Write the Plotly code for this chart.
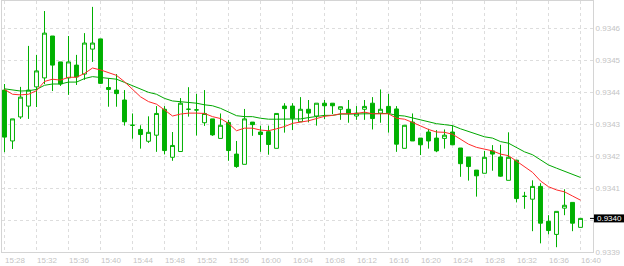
import plotly.graph_objects as go
import pandas as pd

# ---- data (1-minute candles 15:28 .. 16:40) ----
start_time = "2024-01-01 15:28"

open_ = [
    0.934406, 0.934247, 0.934322, 0.934356, 0.934416, 0.934444, 0.934575, 0.934494, 0.934444, 0.934484,
    0.934456, 0.934534, 0.934566, 0.934414, 0.934406, 0.934375, 0.934296, 0.934283, 0.934246, 0.934265,
    0.934346, 0.934196, 0.934214, 0.934346, 0.934344, 0.934304, 0.934316, 0.934255, 0.934305, 0.934206,
    0.934174, 0.934306, 0.934275, 0.934276, 0.934224, 0.934356, 0.934356, 0.934307, 0.934346, 0.934325,
    0.934365, 0.934365, 0.934346, 0.934346, 0.934325, 0.934346, 0.934365, 0.934334, 0.934355, 0.934347,
    0.934224, 0.934306, 0.934256, 0.934275, 0.934256, 0.934255, 0.934275, 0.934225, 0.934197, 0.934156,
    0.934146, 0.934216, 0.934197, 0.934124, 0.934187, 0.934074, 0.934065, 0.934105, 0.933996, 0.933955,
    0.934037, 0.934055, 0.933977]

high = [
    0.934425, 0.934316, 0.934416, 0.934544, 0.934516, 0.934653, 0.934575, 0.934494, 0.934575, 0.934516,
    0.934584, 0.934666, 0.934566, 0.934442, 0.934456, 0.934406, 0.934333, 0.934296, 0.934324, 0.934356,
    0.934356, 0.934275, 0.934381, 0.934415, 0.934394, 0.934406, 0.934316, 0.934333, 0.934313, 0.934247,
    0.934347, 0.934306, 0.934295, 0.934295, 0.934333, 0.934365, 0.934365, 0.934384, 0.934375, 0.934365,
    0.934375, 0.934365, 0.934354, 0.934375, 0.934356, 0.934375, 0.934384, 0.934408, 0.934394, 0.934356,
    0.934296, 0.934333, 0.934256, 0.934285, 0.934281, 0.934283, 0.934296, 0.934225, 0.934197, 0.934156,
    0.934216, 0.934234, 0.934235, 0.934274, 0.934188, 0.934088, 0.934124, 0.934115, 0.934015, 0.934027,
    0.934096, 0.934055, 0.934005]

low = [
    0.934212, 0.934222, 0.934316, 0.934316, 0.934353, 0.934425, 0.934403, 0.934419, 0.934391, 0.934422,
    0.934438, 0.934494, 0.934425, 0.934354, 0.934354, 0.934295, 0.934254, 0.934223, 0.934241, 0.934213,
    0.934205, 0.934185, 0.934214, 0.934323, 0.934264, 0.934294, 0.934263, 0.934255, 0.934185, 0.934163,
    0.934174, 0.934263, 0.934213, 0.934204, 0.934224, 0.934273, 0.934281, 0.934307, 0.934305, 0.934295,
    0.934315, 0.934331, 0.934313, 0.934304, 0.934313, 0.934313, 0.934283, 0.934304, 0.934273, 0.934213,
    0.934224, 0.934247, 0.934203, 0.934223, 0.934212, 0.934223, 0.934234, 0.934135, 0.934123, 0.934073,
    0.934146, 0.934154, 0.934135, 0.934124, 0.934055, 0.934035, 0.933965, 0.933927, 0.933955, 0.933915,
    0.934015, 0.933965, 0.933977]

close = [
    0.934259, 0.934316, 0.934384, 0.934406, 0.934466, 0.934584, 0.934484, 0.934425, 0.934494, 0.934447,
    0.934553, 0.934553, 0.934427, 0.934408, 0.934395, 0.934307, 0.934296, 0.934267, 0.934274, 0.934333,
    0.934217, 0.934233, 0.934365, 0.934346, 0.934344, 0.934333, 0.934266, 0.934296, 0.934217, 0.934167,
    0.934316, 0.934298, 0.934267, 0.934236, 0.934333, 0.934348, 0.934318, 0.934346, 0.934334, 0.934365,
    0.934357, 0.934357, 0.934354, 0.934333, 0.934334, 0.934355, 0.934317, 0.934346, 0.934335, 0.934237,
    0.934296, 0.934247, 0.934235, 0.934247, 0.934216, 0.934265, 0.934235, 0.934176, 0.934167, 0.934138,
    0.934196, 0.934206, 0.934137, 0.934196, 0.934067, 0.934074, 0.934105, 0.933990, 0.933967, 0.934027,
    0.934046, 0.933990, 0.934005]

ma_fast = [
    0.934408, 0.934393, 0.934391, 0.934393, 0.934404, 0.934433, 0.934440, 0.934437, 0.934446, 0.934446,
    0.934458, 0.934475, 0.934469, 0.934460, 0.934452, 0.934432, 0.934409, 0.934385, 0.934370, 0.934362,
    0.934344, 0.934325, 0.934331, 0.934334, 0.934334, 0.934333, 0.934323, 0.934317, 0.934302, 0.934279,
    0.934287, 0.934287, 0.934281, 0.934279, 0.934285, 0.934292, 0.934302, 0.934305, 0.934310, 0.934317,
    0.934324, 0.934327, 0.934332, 0.934332, 0.934333, 0.934337, 0.934332, 0.934332, 0.934332, 0.934318,
    0.934315, 0.934305, 0.934294, 0.934283, 0.934275, 0.934274, 0.934268, 0.934252, 0.934237, 0.934227,
    0.934222, 0.934216, 0.934206, 0.934201, 0.934184, 0.934167, 0.934149, 0.934122, 0.934104, 0.934094,
    0.934088, 0.934075, 0.934062]

ma_slow = [
    0.934410, 0.934406, 0.934403, 0.934404, 0.934408, 0.934421, 0.934425, 0.934425, 0.934431, 0.934431,
    0.934442, 0.934448, 0.934446, 0.934442, 0.934440, 0.934430, 0.934420, 0.934408, 0.934399, 0.934393,
    0.934380, 0.934372, 0.934370, 0.934368, 0.934365, 0.934360, 0.934357, 0.934349, 0.934338, 0.934326,
    0.934323, 0.934323, 0.934318, 0.934315, 0.934315, 0.934315, 0.934315, 0.934316, 0.934320, 0.934323,
    0.934327, 0.934327, 0.934331, 0.934331, 0.934331, 0.934332, 0.934332, 0.934333, 0.934333, 0.934327,
    0.934325, 0.934319, 0.934313, 0.934307, 0.934301, 0.934298, 0.934295, 0.934285, 0.934276, 0.934268,
    0.934260, 0.934256, 0.934245, 0.934240, 0.934227, 0.934213, 0.934204, 0.934187, 0.934172, 0.934162,
    0.934153, 0.934143, 0.934133]

y_tick_vals = [0.9339, 0.9340, 0.9341, 0.9342, 0.9343, 0.9344, 0.9345, 0.9346]
y_tick_text = ["0.9339", "0.9340", "0.9341", "0.9342", "0.9343", "0.9344", "0.9345", "0.9346"]

# ---- build ----
times = pd.date_range(start_time, periods=len(close), freq="min")
x_ticks = pd.date_range(times[0], times[-1], freq="4min")

W, H = 624, 266
ML, MR, MT, MB = 2, 31, 1, 14
plot_w = W - ML - MR
plot_h = H - MT - MB

step_px = 8.0  # pixels per minute
x0 = times[0] - pd.Timedelta(seconds=60 * (4.5 - ML) / step_px)
x1 = times[0] + pd.Timedelta(seconds=60 * (W - MR - 4.5) / step_px)
y_min = 0.9339
y_max = y_min + 0.0001 * plot_h / 32.0

CANDLE = "#00b000"
GRID = "#dddddd"
TXT = "#c4c4c4"
FONT = "Liberation Sans"

last = close[-1]
last_label = f"{last:.4f}"
# the price tag covers the axis label at the same level
shown_tick_text = ["" if t == last_label else t for t in y_tick_text]

fig = go.Figure()
fig.add_trace(go.Candlestick(
    x=times, open=open_, high=high, low=low, close=close,
    increasing=dict(line=dict(color=CANDLE, width=1), fillcolor="#ffffff"),
    decreasing=dict(line=dict(color=CANDLE, width=1), fillcolor=CANDLE),
    whiskerwidth=0, showlegend=False, hoverinfo="skip",
))
fig.add_trace(go.Scatter(x=times, y=ma_slow, mode="lines",
                         line=dict(color="#00a800", width=1), showlegend=False, hoverinfo="skip"))
fig.add_trace(go.Scatter(x=times, y=ma_fast, mode="lines",
                         line=dict(color="#ff2a2a", width=1), showlegend=False, hoverinfo="skip"))

py = (last - y_min) / (y_max - y_min)
half = 4.0 / plot_h
fig.add_shape(type="rect", xref="paper", yref="paper",
              x0=1 + 1.0 / plot_w, x1=1 + 31.0 / plot_w, y0=py - half, y1=py + half,
              fillcolor="#000000", line=dict(width=0), layer="above")
fig.add_shape(type="line", xref="paper", yref="paper",
              x0=1 - 3.0 / plot_w, x1=1 + 1.0 / plot_w, y0=py, y1=py,
              line=dict(color="#000000", width=1), layer="above")
fig.add_annotation(xref="paper", yref="paper", x=1 + 16.0 / plot_w, y=py,
                   text=last_label, showarrow=False, xanchor="center", yanchor="middle",
                   font=dict(family=FONT, size=8, color="#ffffff"))

fig.update_layout(
    width=W, height=H,
    margin=dict(l=ML, r=MR, t=MT, b=MB, pad=0),
    paper_bgcolor="#ffffff", plot_bgcolor="#ffffff",
    showlegend=False,
    xaxis=dict(
        type="date", range=[x0, x1], rangeslider=dict(visible=False),
        tickvals=list(x_ticks), tickformat="%H:%M",
        ticklabelposition="outside right",
        showgrid=True, gridcolor=GRID, gridwidth=1, griddash="3px,3px",
        showline=True, linecolor="#d4d4d4", linewidth=1, mirror=True,
        ticks="", zeroline=False,
        tickfont=dict(family=FONT, size=8, color=TXT),
    ),
    yaxis=dict(
        side="right", range=[y_min, y_max],
        tickvals=y_tick_vals, ticktext=shown_tick_text,
        showgrid=True, gridcolor=GRID, gridwidth=1, griddash="3px,3px",
        showline=True, linecolor="#d4d4d4", linewidth=1, mirror=True,
        ticks="", zeroline=False,
        tickfont=dict(family=FONT, size=8, color=TXT),
    ),
)

fig.write_html("out.html")
